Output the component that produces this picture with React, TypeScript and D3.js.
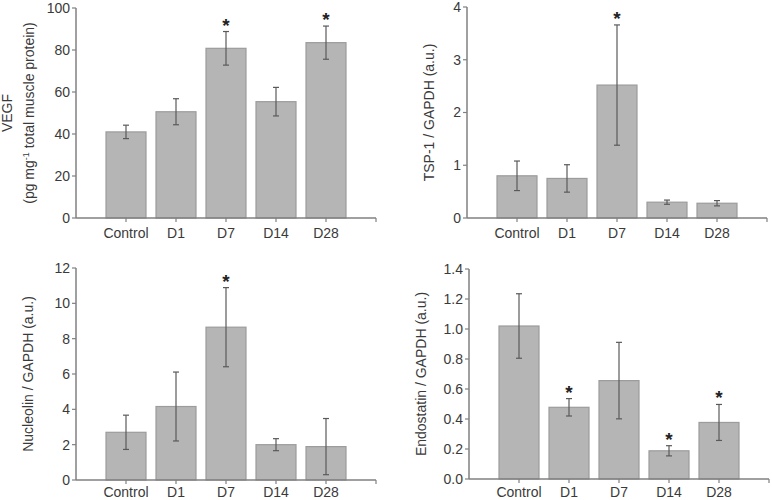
import React from "react";
import * as d3 from "d3";

const categories = ["Control", "D1", "D7", "D14", "D28"];

const vegfMean = [41, 50.6, 80.8, 55.4, 83.5];
const vegfErr = [3.2, 6.2, 8, 6.8, 7.9];
const vegfSig = ["D7", "D28"];
const vegfTicks = [0, 20, 40, 60, 80, 100];

const tspMean = [0.8, 0.75, 2.52, 0.3, 0.28];
const tspErr = [0.28, 0.26, 1.14, 0.04, 0.05];
const tspSig = ["D7"];
const tspTicks = [0, 1, 2, 3, 4];

const nucMean = [2.7, 4.16, 8.65, 2.0, 1.89];
const nucErr = [0.97, 1.95, 2.24, 0.34, 1.59];
const nucSig = ["D7"];
const nucTicks = [0, 2, 4, 6, 8, 10, 12];

const endoMean = [1.02, 0.478, 0.656, 0.188, 0.377];
const endoErr = [0.215, 0.058, 0.255, 0.034, 0.12];
const endoSig = ["D1", "D14", "D28"];
const endoTicks = [0, 0.2, 0.4, 0.6, 0.8, 1.0, 1.2, 1.4];

const FONT = "'Liberation Sans', Arial, sans-serif";
const TEXT = "#3a3a3a";
const AXIS = "#808080";

type PanelProps = {
  x0: number;
  yTop: number;
  yBottom: number;
  mean: number[];
  err: number[];
  sig: string[];
  ticks: number[];
  fmt: (v: number) => string;
  labelX: number;
  labels: React.ReactNode[];
};

function Panel({ x0, yTop, yBottom, mean, err, sig, ticks, fmt, labelX, labels }: PanelProps) {
  const width = 300;
  const x = d3.scalePoint<string>().domain(categories).range([x0, x0 + width]).padding(1);
  const y = d3.scaleLinear().domain([0, ticks[ticks.length - 1]]).range([yBottom, yTop]);
  const bw = 40;
  const cap = 3;
  const midY = (yTop + yBottom) / 2;
  const starFs = 19;
  const labelY = Math.min(yBottom + 20, 497);
  return (
    <g>
      {categories.map((c, i) => {
        const cx = x(c)!;
        return (
          <rect
            key={"b" + c}
            x={cx - bw / 2}
            y={y(mean[i])}
            width={bw}
            height={y(0) - y(mean[i])}
            fill="#b5b5b5"
            stroke="#9c9c9c"
            strokeWidth={1.2}
          />
        );
      })}
      {categories.map((c, i) => {
        const cx = x(c)!;
        const hi = y(mean[i] + err[i]);
        const lo = y(Math.max(0, mean[i] - err[i]));
        return (
          <g key={"e" + c} stroke="#5a5a5a" strokeWidth={1.2}>
            <line x1={cx} x2={cx} y1={hi} y2={lo} />
            <line x1={cx - cap} x2={cx + cap} y1={hi} y2={hi} />
            <line x1={cx - cap} x2={cx + cap} y1={lo} y2={lo} />
          </g>
        );
      })}
      {categories.map((c, i) =>
        sig.includes(c) ? (
          <text
            key={"s" + c}
            x={x(c)!}
            y={y(mean[i] + err[i]) - 11 + 0.58 * starFs}
            textAnchor="middle"
            fontSize={starFs}
            fontWeight="bold"
            fontFamily={FONT}
            fill="#222"
          >
            *
          </text>
        ) : null
      )}
      {/* axes */}
      <line x1={x0} x2={x0} y1={yTop} y2={yBottom} stroke={AXIS} strokeWidth={1.5} />
      <line x1={x0} x2={x0 + width} y1={yBottom} y2={yBottom} stroke={AXIS} strokeWidth={1.5} />
      {ticks.map((t) => (
        <g key={"yt" + t}>
          <line x1={x0 - 4} x2={x0} y1={y(t)} y2={y(t)} stroke={AXIS} strokeWidth={1.2} />
          <text
            x={x0 - 6}
            y={y(t)}
            dy="0.35em"
            textAnchor="end"
            fontSize={14}
            fontFamily={FONT}
            fill={TEXT}
          >
            {fmt(t)}
          </text>
        </g>
      ))}
      {categories.map((c) => (
        <g key={"xt" + c}>
          <line x1={x(c)!} x2={x(c)!} y1={yBottom} y2={yBottom + 4} stroke={AXIS} strokeWidth={1.2} />
          <text
            x={x(c)!}
            y={labelY}
            textAnchor="middle"
            fontSize={14}
            fontFamily={FONT}
            fill={TEXT}
          >
            {c}
          </text>
        </g>
      ))}
      <line x1={x0 + width} x2={x0 + width} y1={yBottom} y2={yBottom + 4} stroke={AXIS} strokeWidth={1.2} />
      {labels.map((l, k) => (
        <text
          key={"l" + k}
          transform={`translate(${labelX + k * 22},${midY}) rotate(-90)`}
          textAnchor="middle"
          dy="0.35em"
          fontSize={14}
          fontFamily={FONT}
          fill={TEXT}
        >
          {l}
        </text>
      ))}
    </g>
  );
}

export default function App() {
  const intFmt = d3.format("d");
  const oneDec = d3.format(".1f");
  return (
    <svg
      width={772}
      height={500}
      style={{ position: "absolute", left: 0, top: 0, background: "#fff" }}
    >
      <rect width={772} height={500} fill="#fff" />
      <Panel
        x0={76}
        yTop={8}
        yBottom={218}
        mean={vegfMean}
        err={vegfErr}
        sig={vegfSig}
        ticks={vegfTicks}
        fmt={intFmt}
        labelX={7}
        labels={[
          "VEGF",
          <>
            (pg mg<tspan dy="-5" fontSize={9}>-1</tspan>
            <tspan dy="5"> total muscle protein)</tspan>
          </>,
        ]}
      />
      <Panel
        x0={467}
        yTop={7}
        yBottom={218}
        mean={tspMean}
        err={tspErr}
        sig={tspSig}
        ticks={tspTicks}
        fmt={intFmt}
        labelX={429}
        labels={["TSP-1 / GAPDH (a.u.)"]}
      />
      <Panel
        x0={76}
        yTop={268}
        yBottom={480}
        mean={nucMean}
        err={nucErr}
        sig={nucSig}
        ticks={nucTicks}
        fmt={intFmt}
        labelX={28}
        labels={["Nucleolin / GAPDH (a.u.)"]}
      />
      <Panel
        x0={469}
        yTop={269}
        yBottom={479}
        mean={endoMean}
        err={endoErr}
        sig={endoSig}
        ticks={endoTicks}
        fmt={oneDec}
        labelX={421}
        labels={["Endostatin / GAPDH (a.u.)"]}
      />
    </svg>
  );
}
